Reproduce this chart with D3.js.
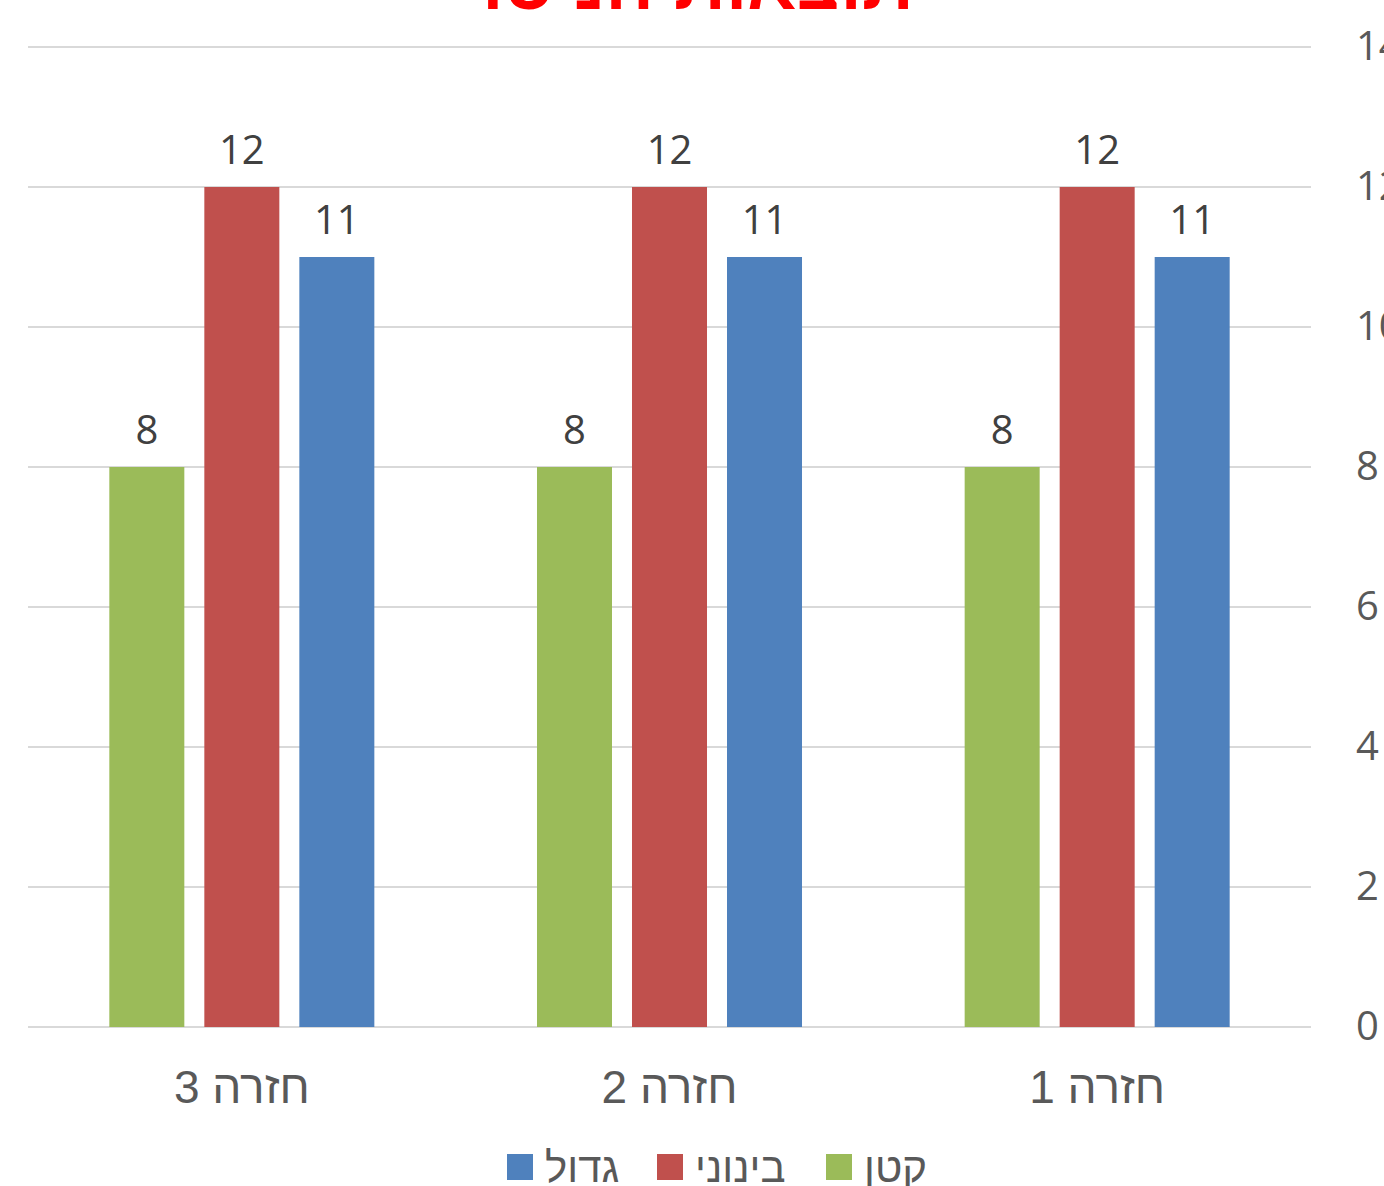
<!DOCTYPE html>
<html><head><meta charset="utf-8">
<script src="https://cdn.jsdelivr.net/npm/d3@7"></script>
<style>
html,body{margin:0;padding:0;background:#fff;overflow:hidden}
text{font-family:"Open Sans","Liberation Sans",Arial,sans-serif}
</style></head>
<body><svg id="c" width="1384" height="1186"></svg>
<script>
const title = "תוצאות הניסוי";
const categories = ["חזרה 1", "חזרה 2", "חזרה 3"];
const seriesNames = ["גדול", "בינוני", "קטן"];
const seriesColors = ["#4F81BD", "#C0504D", "#9BBB59"];
const valuesBig = [11, 11, 11];
const valuesMedium = [12, 12, 12];
const valuesSmall = [8, 8, 8];
const yTicks = [0, 2, 4, 6, 8, 10, 12, 14];

(function () {
const seriesValues = [valuesBig, valuesMedium, valuesSmall];
const svg = d3.select("#c");
const pL = 28, pR = 1311, pT = 47, pB = 1027;
const FONT = '"Open Sans","Liberation Sans",Arial,sans-serif';
const HEB = '"Liberation Sans",Arial,sans-serif';

const y = d3.scaleLinear().domain([0, 14]).range([pB, pT]);
const x0 = d3.scaleBand().domain(categories.slice().reverse()).range([pL, pR]);
const x1 = d3.scaleBand().domain(seriesNames.slice().reverse())
  .range([0, x0.bandwidth()]).paddingInner(20/95).paddingOuter(0.856);

svg.append("g").selectAll("line").data(yTicks).join("line")
  .attr("x1", pL).attr("x2", pR)
  .attr("y1", d => y(d)).attr("y2", d => y(d))
  .attr("stroke", "#D9D9D9").attr("stroke-width", 2);

const yAxis = d3.axisRight(y).tickValues(yTicks).tickSize(0).tickPadding(45);
const ya = svg.append("g").attr("transform", `translate(${pR},0)`).call(yAxis);
ya.select(".domain").remove();
ya.selectAll("text").attr("font-size", 40).attr("fill", "#595959").style("font-family", FONT);

const data = [];
categories.forEach((c, ci) => seriesNames.forEach((s, si) =>
  data.push({cat: c, ser: s, v: seriesValues[si][ci], color: seriesColors[si]})));

const g = svg.append("g");
g.selectAll("rect").data(data).join("rect")
  .attr("x", d => x0(d.cat) + x1(d.ser))
  .attr("width", x1.bandwidth())
  .attr("y", d => y(d.v))
  .attr("height", d => y(0) - y(d.v))
  .attr("fill", d => d.color);

g.selectAll("text.val").data(data).join("text").attr("class", "val")
  .attr("x", d => x0(d.cat) + x1(d.ser) + x1.bandwidth() / 2)
  .attr("y", d => y(d.v) - 23)
  .attr("text-anchor", "middle").attr("font-size", 40).attr("fill", "#404040")
  .text(d => d.v);

const xAxis = d3.axisBottom(x0).tickSize(0).tickPadding(0);
const xa = svg.append("g").attr("transform", `translate(0,${pB})`).call(xAxis);
xa.select(".domain").remove();
xa.selectAll("text").attr("font-size", 46).attr("fill", "#595959")
  .attr("dy", null).attr("y", 76).attr("direction", "rtl").style("font-family", HEB);

svg.append("text").attr("x", 687).attr("y", 9).attr("text-anchor", "middle")
  .attr("direction", "rtl").attr("font-size", 72).attr("font-weight", "bold")
  .attr("fill", "#FF0000").style("font-family", HEB).text(title);

const legendX = [507, 657, 826];
const lg = svg.append("g").selectAll("g").data(seriesNames).join("g")
  .attr("transform", (d, i) => `translate(${legendX[i]},1154)`);
lg.append("rect").attr("width", 26).attr("height", 26)
  .attr("fill", (d, i) => seriesColors[i]);
lg.append("text").attr("x", 38).attr("y", 28).attr("font-size", 42)
  .attr("fill", "#595959").attr("direction", "rtl").attr("text-anchor", "end")
  .style("font-family", HEB).text(d => d);
})();
</script></body></html>
